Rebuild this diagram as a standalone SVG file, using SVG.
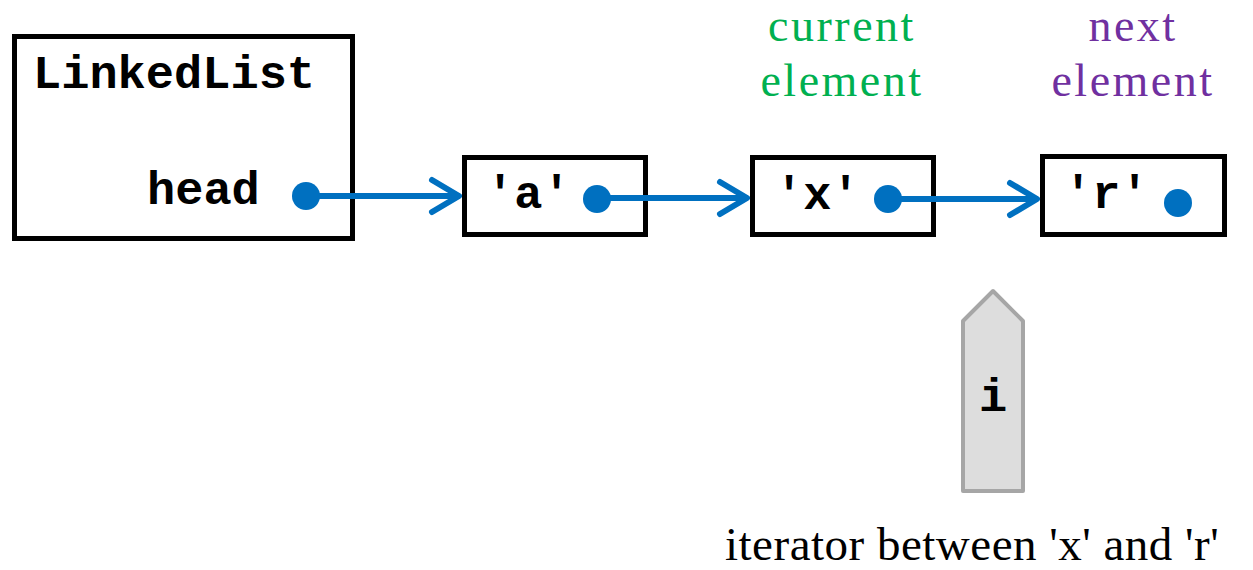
<svg xmlns="http://www.w3.org/2000/svg" width="1253" height="570" viewBox="0 0 1253 570">
  <style>
    .box { fill: #ffffff; stroke: #000000; stroke-width: 5; }
    .code { font-family: "Liberation Mono", "Courier New", monospace; font-weight: bold; font-size: 47px; fill: #000000; }
    .label { font-family: "Liberation Serif", "Times New Roman", serif; font-size: 46px; text-anchor: middle; letter-spacing: 2.5px; }
    .ptr { fill: #0070C0; }
    .link { stroke: #0070C0; stroke-width: 6; fill: none; }
    .chev { stroke: #0070C0; stroke-width: 6; fill: none; stroke-linecap: round; stroke-linejoin: round; }
  </style>

  <!-- LinkedList object with its head field -->
  <g id="linkedlist">
    <rect class="box" x="14.5" y="36.5" width="338" height="202"/>
    <text class="code" x="33" y="88">LinkedList</text>
    <text class="code" x="147" y="204">head</text>
    <circle class="ptr" cx="306" cy="196" r="14"/>
  </g>

  <!-- list nodes -->
  <g id="node-a">
    <rect class="box" x="464.5" y="157.5" width="181" height="77"/>
    <text class="code" x="486" y="208">'a'</text>
    <circle class="ptr" cx="597" cy="199" r="14"/>
  </g>
  <g id="node-x">
    <rect class="box" x="752.5" y="157.5" width="181" height="77"/>
    <text class="code" x="775" y="209">'x'</text>
    <circle class="ptr" cx="888" cy="199" r="14"/>
  </g>
  <g id="node-r">
    <rect class="box" x="1042.5" y="156.5" width="182" height="78"/>
    <text class="code" x="1064" y="208">'r'</text>
    <circle class="ptr" cx="1178" cy="203" r="14"/>
  </g>

  <!-- next-pointer links -->
  <g id="connectors">
    <line class="link" x1="306" y1="196" x2="459" y2="196"/>
    <polyline class="chev" points="432,180 459,196 432,212"/>
    <line class="link" x1="597" y1="198" x2="747" y2="198"/>
    <polyline class="chev" points="720,182 747,198 720,214"/>
    <line class="link" x1="888" y1="199" x2="1037" y2="199"/>
    <polyline class="chev" points="1010,183 1037,199 1010,215"/>
  </g>

  <!-- role labels -->
  <g id="label-current" fill="#00B050">
    <text class="label" x="842" y="41">current</text>
    <text class="label" x="842" y="96">element</text>
  </g>
  <g id="label-next" fill="#7030A0">
    <text class="label" x="1133" y="41">next</text>
    <text class="label" x="1133" y="96">element</text>
  </g>

  <!-- iterator marker -->
  <g id="iterator">
    <path d="M993,291 L1023,321 L1023,491 L963,491 L963,321 Z" fill="#DDDDDD" stroke="#A6A6A6" stroke-width="4" stroke-linejoin="round"/>
    <text class="code" x="993" y="411" text-anchor="middle">i</text>
  </g>

  <g id="caption">
    <text x="725" y="560" font-family="'Liberation Serif', 'Times New Roman', serif" font-size="47" letter-spacing="0.5" fill="#000000">iterator between 'x' and 'r'</text>
  </g>
</svg>
